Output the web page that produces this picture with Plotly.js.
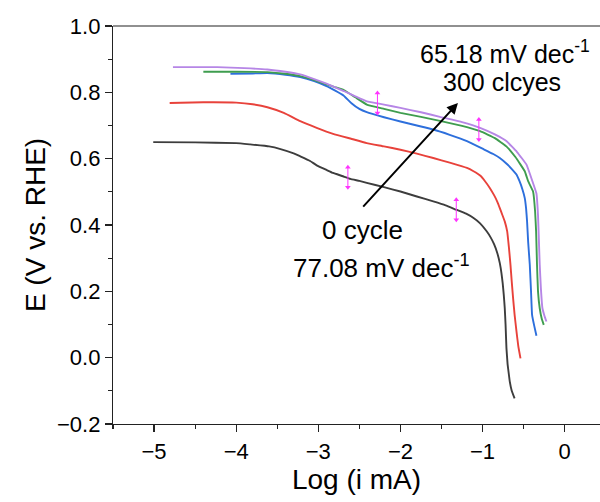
<!DOCTYPE html>
<html><head><meta charset="utf-8">
<script src="https://cdn.plot.ly/plotly-3.0.1.min.js"></script>
<style>body{margin:0;background:#fff}#chart{width:600px;height:502px}</style>
</head><body><div id="chart"></div>
<script>
// Tafel curves: Log(i mA) vs E (V vs. RHE)
const cycle0_x = [-5.01,-4.5,-4.0,-3.83,-3.6,-3.46,-3.3,-3.22,-3.1,-3.02,-2.9,-2.82,-2.7,-2.61,-2.5,-2.41,-2.2,-2.0,-1.8,-1.6,-1.45,-1.32,-1.2,-1.11,-1.03,-0.95,-0.90,-0.86,-0.82,-0.79,-0.77,-0.755,-0.742,-0.73,-0.72,-0.709,-0.695,-0.68,-0.668,-0.645,-0.61];
const cycle0_y = [0.650,0.649,0.647,0.643,0.637,0.629,0.616,0.607,0.593,0.580,0.566,0.557,0.547,0.539,0.533,0.527,0.514,0.501,0.486,0.471,0.459,0.446,0.434,0.421,0.405,0.381,0.362,0.342,0.315,0.285,0.255,0.225,0.190,0.150,0.100,0.028,-0.02,-0.05,-0.073,-0.10,-0.123];

const red_x = [-4.81,-4.4,-4.0,-3.8,-3.62,-3.42,-3.22,-3.02,-2.82,-2.6,-2.41,-2.2,-2.0,-1.8,-1.6,-1.4,-1.19,-1.11,-1.03,-0.97,-0.91,-0.86,-0.82,-0.79,-0.76,-0.73,-0.70,-0.68,-0.66,-0.645,-0.628,-0.61,-0.587,-0.565,-0.538];
const red_y = [0.768,0.770,0.769,0.764,0.755,0.738,0.713,0.693,0.675,0.660,0.647,0.637,0.627,0.615,0.602,0.588,0.572,0.562,0.549,0.532,0.511,0.490,0.470,0.451,0.431,0.411,0.381,0.335,0.280,0.230,0.179,0.130,0.079,0.035,-0.002];

const blue_x = [-4.07,-3.8,-3.62,-3.4,-3.22,-3.05,-2.9,-2.8,-2.69,-2.6,-2.5,-2.41,-2.2,-2.0,-1.8,-1.6,-1.4,-1.19,-1.0,-0.87,-0.79,-0.70,-0.63,-0.587,-0.55,-0.515,-0.486,-0.47,-0.458,-0.445,-0.425,-0.41,-0.397,-0.37,-0.344];
const blue_y = [0.856,0.857,0.858,0.853,0.846,0.834,0.819,0.806,0.790,0.768,0.750,0.740,0.725,0.712,0.700,0.688,0.672,0.653,0.630,0.614,0.602,0.583,0.565,0.552,0.532,0.508,0.481,0.450,0.411,0.350,0.280,0.200,0.129,0.095,0.066];

const green_x = [-4.40,-4.0,-3.62,-3.4,-3.22,-3.05,-2.9,-2.8,-2.69,-2.55,-2.41,-2.2,-2.0,-1.75,-1.52,-1.25,-1.03,-0.85,-0.71,-0.6,-0.486,-0.445,-0.385,-0.36,-0.348,-0.337,-0.325,-0.304,-0.28,-0.255];
const green_y = [0.862,0.862,0.861,0.856,0.849,0.837,0.824,0.816,0.807,0.785,0.763,0.750,0.738,0.726,0.714,0.699,0.683,0.662,0.637,0.605,0.562,0.532,0.501,0.440,0.380,0.280,0.200,0.149,0.118,0.099];

const purple_x = [-4.77,-4.23,-3.9,-3.62,-3.4,-3.22,-3.05,-2.9,-2.69,-2.55,-2.41,-2.2,-2.0,-1.75,-1.52,-1.25,-1.03,-0.85,-0.71,-0.58,-0.465,-0.393,-0.344,-0.325,-0.315,-0.304,-0.29,-0.271,-0.245,-0.222];
const purple_y = [0.876,0.876,0.873,0.869,0.862,0.854,0.840,0.826,0.804,0.788,0.773,0.763,0.753,0.740,0.726,0.710,0.693,0.673,0.653,0.620,0.582,0.532,0.495,0.430,0.360,0.280,0.210,0.149,0.125,0.109];

// fitting-range markers (magenta)
const fit_x = [-2.64,-1.32,-2.28,-1.045];
const fit_y = [0.544,0.446,0.768,0.688];
const fit_half = 0.03;

// text labels
const label_top1 = "65.18 mV dec<sup>-1</sup>";
const label_top2 = "300 clcyes";
const label_bot1 = "0 cycle";
const label_bot2 = "77.08 mV dec<sup>-1</sup>";

const series = [
  {x: cycle0_x, y: cycle0_y, color: '#3d3d3d'},
  {x: red_x, y: red_y, color: '#e8423b'},
  {x: blue_x, y: blue_y, color: '#2d6fdc'},
  {x: green_x, y: green_y, color: '#3f9d4f'},
  {x: purple_x, y: purple_y, color: '#b686e6'}
];

const traces = series.map(s => ({
  x: s.x, y: s.y, type: 'scatter', mode: 'lines',
  line: {color: s.color, width: 1.9, shape: 'spline', smoothing: 0.3},
  hoverinfo: 'skip', showlegend: false
}));

fit_x.forEach((fx, i) => {
  traces.push({
    x: [fx, fx], y: [fit_y[i] - fit_half, fit_y[i] + fit_half],
    type: 'scatter', mode: 'lines+markers',
    line: {color: '#ff33ff', width: 1},
    marker: {symbol: ['triangle-down', 'triangle-up'], size: 5, color: '#ff33ff'},
    showlegend: false, hoverinfo: 'skip'
  });
});

const ff = 'Liberation Sans, Arial, sans-serif';

const layout = {
  width: 600, height: 502,
  margin: {l: 113, r: 0, t: 26, b: 78},
  paper_bgcolor: '#fff', plot_bgcolor: '#fff',
  font: {family: ff, color: '#000'},
  showlegend: false,
  xaxis: {
    range: [-5.5, 0.43], dtick: 1, tick0: 0,
    showgrid: false, zeroline: false,
    showline: true, linecolor: '#222', linewidth: 1.2,
    ticks: 'outside', ticklen: 7, tickwidth: 1.2, tickcolor: '#222',
    minor: {ticks: 'outside', ticklen: 4, dtick: 0.5, tick0: 0, tickcolor: '#222', tickwidth: 1.2},
    tickfont: {size: 22, family: ff, color: '#000'},
    title: {text: 'Log (i mA)', font: {size: 28, family: ff, color: '#000'}, standoff: 6}
  },
  yaxis: {
    range: [-0.2, 1.0], dtick: 0.2, tick0: 0,
    tickformat: '.1f',
    showgrid: false, zeroline: false,
    showline: true, linecolor: '#222', linewidth: 1.2,
    ticks: 'outside', ticklen: 7, tickwidth: 1.2, tickcolor: '#222',
    minor: {ticks: 'outside', ticklen: 4, dtick: 0.1, tick0: 0, tickcolor: '#222', tickwidth: 1.2},
    tickfont: {size: 22, family: ff, color: '#000'},
    title: {text: 'E (V vs. RHE)', font: {size: 28, family: ff, color: '#000'}, standoff: 3}
  },
  shapes: [
    {type: 'line', xref: 'paper', yref: 'paper', x0: 0, x1: 1, y0: 1, y1: 1, line: {color: '#222', width: 1.2}}
  ],
  annotations: [
    {x: -1.30, y: 0.768, ax: -2.47, ay: 0.451, xref: 'x', yref: 'y', axref: 'x', ayref: 'y',
     showarrow: true, arrowhead: 2, arrowsize: 1.1, arrowwidth: 2, arrowcolor: '#000', text: ''},
    {x: -1.79, y: 0.923, xref: 'x', yref: 'y', xanchor: 'left', text: label_top1, showarrow: false, font: {size: 25, family: ff, color: '#000'}},
    {x: -0.765, y: 0.830, xref: 'x', yref: 'y', text: label_top2, showarrow: false, font: {size: 25, family: ff, color: '#000'}},
    {x: -2.46, y: 0.384, xref: 'x', yref: 'y', text: label_bot1, showarrow: false, font: {size: 26, family: ff, color: '#000'}},
    {x: -3.33, y: 0.276, xref: 'x', yref: 'y', xanchor: 'left', text: label_bot2, showarrow: false, font: {size: 26, family: ff, color: '#000'}}
  ]
};

Plotly.newPlot('chart', traces, layout, {displayModeBar: false, staticPlot: true});
</script>
</body></html>
